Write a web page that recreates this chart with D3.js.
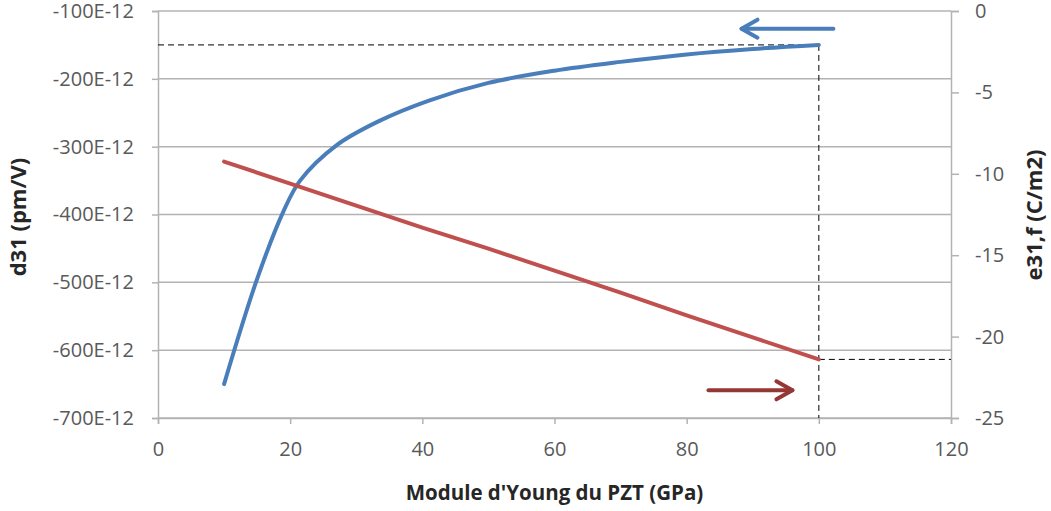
<!DOCTYPE html>
<html><head><meta charset="utf-8">
<script src="https://cdn.jsdelivr.net/npm/d3@7"></script>
<style>body{margin:0;background:#fff}svg{display:block}text{font-family:"Open Sans","Noto Sans",sans-serif}</style>
</head><body><div id="c"></div>
<script>
// Data
const youngModulus = [10, 15, 19, 21.5, 27, 33.5, 41, 50, 60, 70, 80, 90, 100];
const d31 = [-650, -495, -395, -350, -298, -262, -232, -206, -188, -175, -164, -156, -150]; // E-12 pm/V
const youngModulusE = [10, 20, 30, 40, 50, 60, 70, 80, 90, 100];
const e31f = [-9.25, -10.6, -11.95, -13.3, -14.6, -15.95, -17.3, -18.7, -20.05, -21.4];
const xTicks = [0, 20, 40, 60, 80, 100, 120];
const leftTicks = [-100, -200, -300, -400, -500, -600, -700];
const rightTicks = [0, -5, -10, -15, -20, -25];
const markerE = 100, markerD = -150, markerEf = -21.4;

const W = 1051, H = 511;
const m = {l: 158, r: 100, t: 11, b: 93};
const svg = d3.select("#c").append("svg").attr("width", W).attr("height", H);
const x = d3.scaleLinear().domain([0, 120]).range([m.l, W - m.r]);
const yL = d3.scaleLinear().domain([-700, -100]).range([H - m.b, m.t]);
const yR = d3.scaleLinear().domain([-25, 0]).range([H - m.b, m.t]);
const grid = "#b3b3b3", tc = "#595959";

// gridlines
svg.append("g").selectAll("line").data(leftTicks).join("line")
  .attr("x1", x(0)).attr("x2", x(120)).attr("y1", d => yL(d)).attr("y2", d => yL(d))
  .attr("stroke", grid).attr("stroke-width", 1.5);

// axes
const axL = svg.append("g").attr("transform", `translate(${x(0)},0)`)
  .call(d3.axisLeft(yL).tickValues(leftTicks).tickSize(6).tickPadding(18).tickFormat(d => d + "E-12"));
const axR = svg.append("g").attr("transform", `translate(${x(120)},0)`)
  .call(d3.axisRight(yR).tickValues(rightTicks).tickSize(8).tickPadding(16).tickFormat(d => d === 0 ? "0" : "-" + Math.abs(d)));
const axB = svg.append("g").attr("transform", `translate(0,${yL(-700)})`)
  .call(d3.axisBottom(x).tickValues(xTicks).tickSize(6).tickPadding(18));
[axL, axR, axB].forEach(a => {
  a.select(".domain").attr("stroke", grid).attr("stroke-width", 1.5);
  a.selectAll(".tick line").attr("stroke", grid).attr("stroke-width", 1.5);
  a.selectAll("text").attr("fill", tc).style("font-size", "20px").style("font-family", '"Open Sans",sans-serif');
});

// dashed guide lines
const dash = svg.append("g").attr("stroke", "#000").attr("stroke-width", 1).attr("stroke-dasharray", "6,4").attr("fill", "none");
dash.append("line").attr("x1", x(0)).attr("x2", x(markerE)).attr("y1", yL(markerD)).attr("y2", yL(markerD));
dash.append("line").attr("x1", x(markerE)).attr("x2", x(markerE)).attr("y1", yL(markerD)).attr("y2", yL(-700));
dash.append("line").attr("x1", x(markerE)).attr("x2", x(120)).attr("y1", yR(markerEf)).attr("y2", yR(markerEf));

// series
const lineD = d3.line().x((d, i) => x(youngModulus[i])).y(d => yL(d)).curve(d3.curveCatmullRom.alpha(0.5));
svg.append("path").datum(d31).attr("d", lineD).attr("fill", "none")
  .attr("stroke", "#4a7ebb").attr("stroke-width", 4).attr("stroke-linecap", "round");
const lineE = d3.line().x((d, i) => x(youngModulusE[i])).y(d => yR(d));
svg.append("path").datum(e31f).attr("d", lineE).attr("fill", "none")
  .attr("stroke", "#c0504d").attr("stroke-width", 4).attr("stroke-linecap", "round");

// arrows
function arrow(x1, x2, yy, col) {
  const g = svg.append("g").attr("stroke", col).attr("stroke-width", 4).attr("fill", "none").attr("stroke-linecap", "round");
  g.append("line").attr("x1", x1).attr("x2", x2).attr("y1", yy).attr("y2", yy);
  const dir = x2 > x1 ? -1 : 1;
  g.append("path").attr("d", `M${x2 + dir * 16},${yy - 9} L${x2},${yy} L${x2 + dir * 16},${yy + 9}`).attr("stroke-linejoin", "round");
}
arrow(x(102.2), x(88.3), yL(-126), "#4a7ebb");
arrow(x(83.3), x(96), yR(-23.3), "#953735");

// titles
svg.append("text").attr("x", (x(0) + x(120)) / 2).attr("y", 500).attr("text-anchor", "middle")
  .style("font-size", "20.5px").style("font-weight", "bold").attr("fill", "#262626").text("Module d'Young du PZT (GPa)");
svg.append("text").attr("transform", `translate(26,217) rotate(-90)`).attr("text-anchor", "middle")
  .style("font-size", "22px").style("font-weight", "bold").attr("fill", "#262626").text("d31 (pm/V)");
svg.append("text").attr("transform", `translate(1042,215) rotate(-90)`).attr("text-anchor", "middle")
  .style("font-size", "22px").style("font-weight", "bold").attr("fill", "#262626").text("e31,f (C/m2)");
</script></body></html>
